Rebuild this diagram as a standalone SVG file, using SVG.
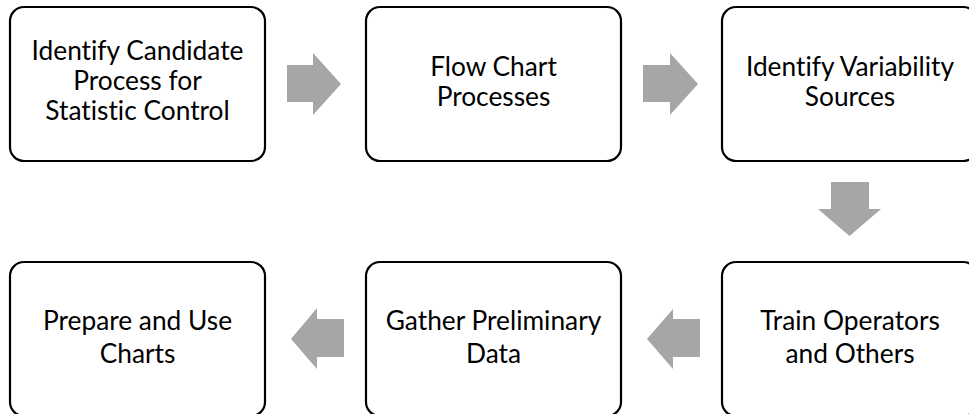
<svg xmlns="http://www.w3.org/2000/svg" width="969" height="414" viewBox="0 0 969 414">
  <style>
    .box { fill: #ffffff; stroke: #000000; stroke-width: 2.2; }
    .label { font-family: Lato, "Liberation Sans", sans-serif; font-size: 26.3px; fill: #000000; text-anchor: middle; font-variant-ligatures: none; }
    .arrow { fill: #a6a6a6; stroke: none; }
  </style>
  <rect width="969" height="414" fill="#ffffff"/>

  <!-- top row -->
  <g id="identify-candidate">
    <rect class="box" x="10" y="7" width="255" height="154" rx="14"/>
    <text class="label" x="137.5" y="60">Identify Candidate</text>
    <text class="label" x="137.5" y="90">Process for</text>
    <text class="label" x="137.5" y="120">Statistic Control</text>
  </g>
  <g id="flow-chart">
    <rect class="box" x="366" y="7" width="255" height="154" rx="14"/>
    <text class="label" x="493.5" y="76">Flow Chart</text>
    <text class="label" x="493.5" y="106">Processes</text>
  </g>
  <g id="identify-variability">
    <rect class="box" x="722" y="7" width="255" height="154" rx="14"/>
    <text class="label" x="850" y="76">Identify Variability</text>
    <text class="label" x="850" y="106">Sources</text>
  </g>

  <!-- bottom row -->
  <g id="prepare-charts">
    <rect class="box" x="10" y="262" width="255" height="154" rx="14"/>
    <text class="label" x="137.5" y="330">Prepare and Use</text>
    <text class="label" x="137.5" y="363">Charts</text>
  </g>
  <g id="gather-data">
    <rect class="box" x="366" y="262" width="255" height="154" rx="14"/>
    <text class="label" x="493.5" y="330">Gather Preliminary</text>
    <text class="label" x="493.5" y="363">Data</text>
  </g>
  <g id="train-operators">
    <rect class="box" x="722" y="262" width="255" height="154" rx="14"/>
    <text class="label" x="850" y="330">Train Operators</text>
    <text class="label" x="850" y="363">and Others</text>
  </g>

  <!-- block arrows between steps -->
  <g id="connectors">
    <polygon class="arrow" points="287,65 313,65 313,53 341,84 313,115 313,102 287,102"/>
    <polygon class="arrow" points="643,65 670,65 670,53 698,84 670,115 670,102 643,102"/>
    <polygon class="arrow" points="831,182 869,182 869,209 881,209 849.5,236 818,209 831,209"/>
    <polygon class="arrow" points="700,319 673,319 673,309 647,339 673,369 673,357 700,357"/>
    <polygon class="arrow" points="344,319 317,319 317,308 291,339 317,369 317,357 344,357"/>
  </g>
</svg>
